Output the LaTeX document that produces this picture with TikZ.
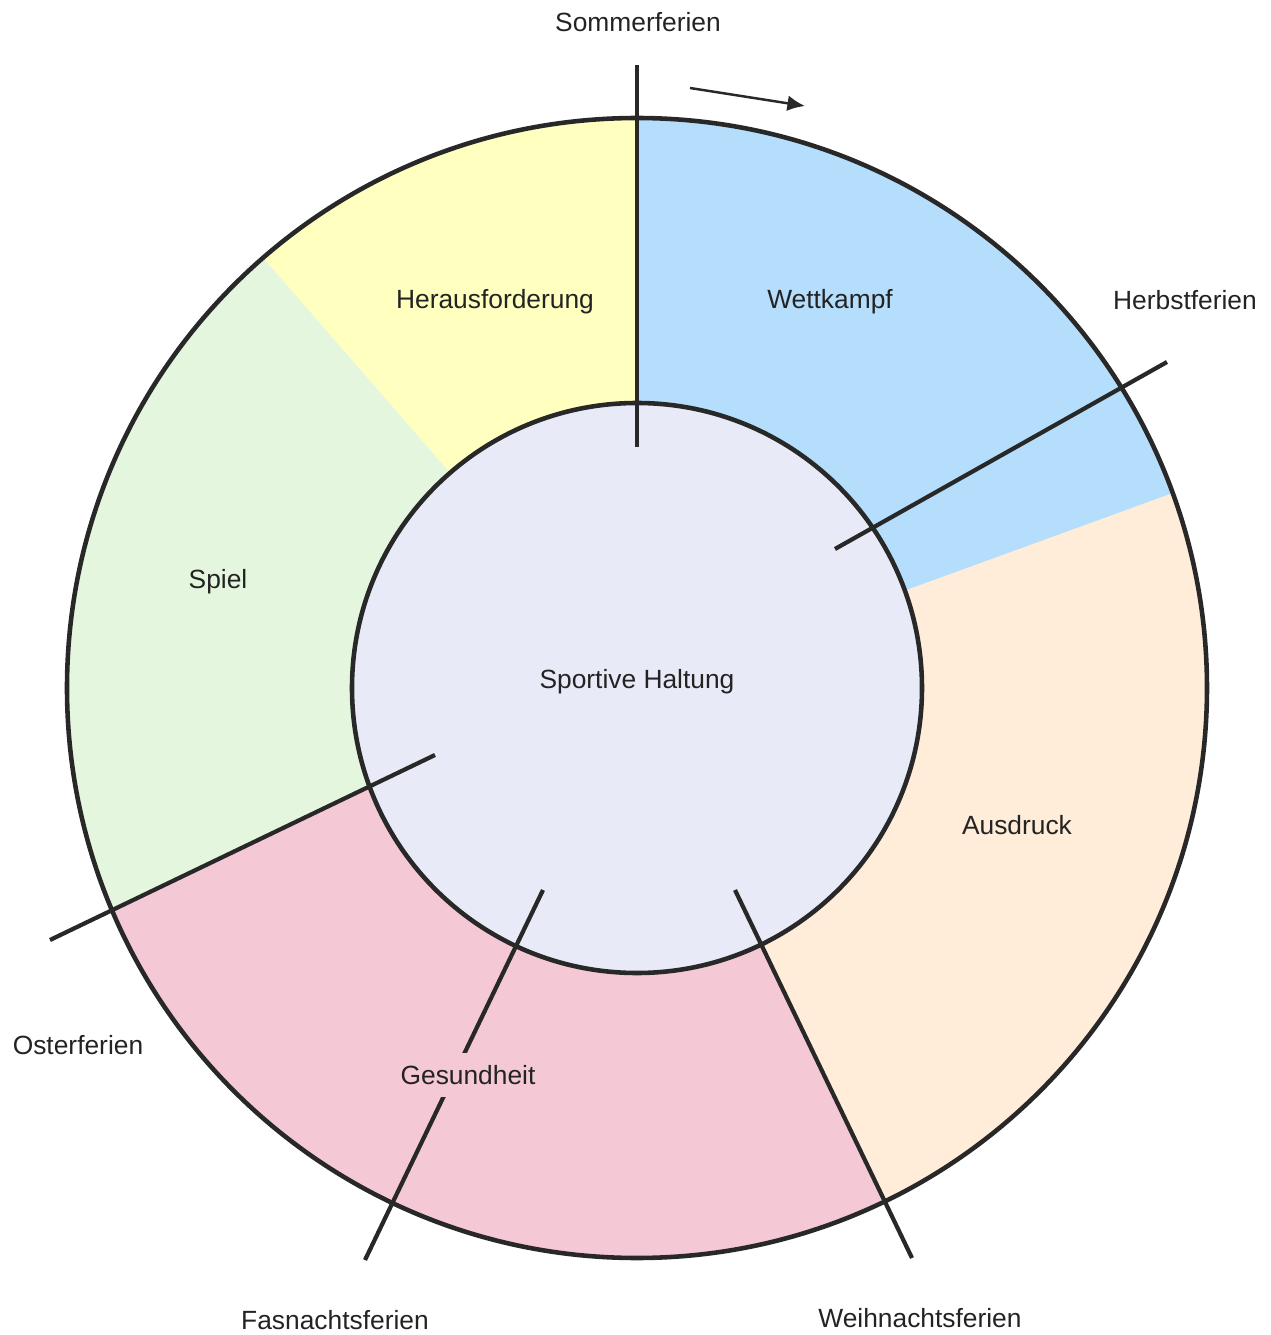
\documentclass[tikz,border=0pt]{standalone}
\usepackage{fontspec}
\setmainfont{Liberation Sans}
\usetikzlibrary{calc, arrows.meta}

\definecolor{gelb}{RGB}{255,255,191}
\definecolor{blau}{RGB}{180,222,252}
\definecolor{pfirsich}{RGB}{255,236,217}
\definecolor{rosa}{RGB}{245,200,214}
\definecolor{gruen}{RGB}{228,246,222}
\definecolor{mitte}{RGB}{232,235,247}
\definecolor{rimgrey}{RGB}{40,40,40}
\definecolor{textgrey}{RGB}{35,35,35}

\begin{document}
\begin{tikzpicture}[rim/.style={draw=rimgrey, line width=1.3pt},
 ferien/.style={draw=rimgrey, line width=1.2pt},
 lab/.style={text=textgrey, font=\fontsize{7.5}{9}\selectfont, inner sep=1pt}]
  \useasboundingbox (0,0) rectangle (12.71,13.35);
  \coordinate (M) at (6.37,6.47);
  \def\ro{5.70}
  \def\ri{2.85}

  % ring segments
  \foreach \a/\b/\c/\d/\f in {90/131/131/90/gelb, 131/202.9/200.2/131/gruen,
     202.9/296/296/200.2/rosa, -64/20/20/-64/pfirsich, 20/90/90/20/blau} {
   \fill[\f] ($(M)+(\a:\ro)$) arc[start angle=\a, end angle=\b, radius=\ro]
     -- ($(M)+(\c:\ri)$) arc[start angle=\c, end angle=\d, radius=\ri] -- cycle;}
  \fill[mitte] (M) circle[radius=\ri];
  \draw[rim] (M) circle[radius=\ro];
  \draw[rim] (M) circle[radius=\ri];

  % holiday lines
  \coordinate (so1) at (6.37,12.70);  \coordinate (so2) at (6.37,8.88);
  \coordinate (he1) at (11.67,9.73);  \coordinate (he2) at (8.35,7.86);
  \coordinate (we1) at (7.35,4.45);   \coordinate (we2) at (9.12,0.77);
  \coordinate (fa1) at (5.43,4.45);   \coordinate (fa2) at (3.65,0.75);
  \coordinate (os1) at (4.35,5.80);   \coordinate (os2) at (0.50,3.95);
 \foreach \s/\t in {so1/so2, he1/he2, we1/we2, fa1/fa2, os1/os2} {
   \draw[ferien] (\s) -- (\t);}

  % direction
  \coordinate (pa) at (6.90,12.47);
  \coordinate (pb) at (8.05,12.29);
  \draw[rimgrey, line width=0.7pt, -{Latex[length=5pt,width=4.5pt]}] (pa) -- (pb);

  \node[lab] (sommer) at (6.38,13.13) {Sommerferien};
  \node[lab] (herbst) at (11.85,10.35) {Herbstferien};
  \node[lab] (weihn) at (9.20,0.17) {Weihnachtsferien};
  \node[lab] (fasn) at (3.35,0.15) {Fasnachtsferien};
  \node[lab] (oster) at (0.78,2.90) {Osterferien};

  \node[lab] (heraus) at (4.95,10.33) {Herausforderung};
  \node[lab] (wett) at (8.30,10.33) {Wettkampf};
  \node[lab] (spiel) at (2.18,7.53) {Spiel};
  \node[lab] (haltung) at (6.37,6.53) {Sportive Haltung};
  \node[lab] (ausdruck) at (10.17,5.10) {Ausdruck};
  \node[lab, fill=rosa, inner ysep=3.5pt] (gesund) at (4.68,2.60) {Gesundheit};
\end{tikzpicture}
\end{document}
